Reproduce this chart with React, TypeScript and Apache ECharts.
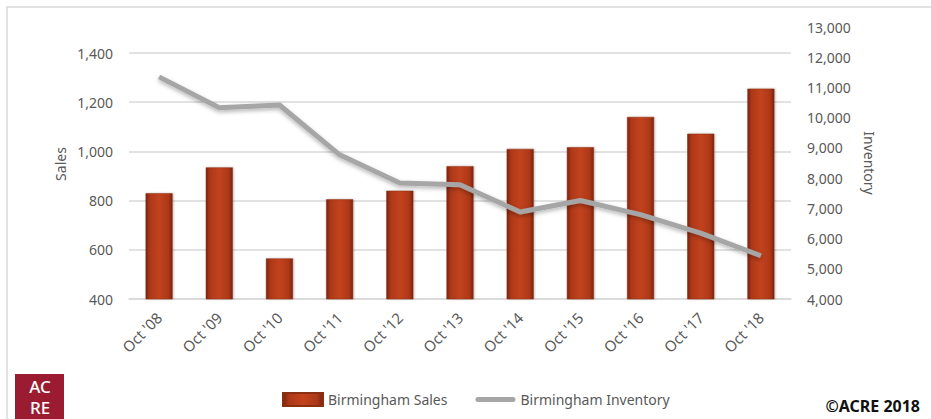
import React, { useEffect, useRef } from "react";
import * as echarts from "echarts";

const categories = ["Oct '08", "Oct '09", "Oct '10", "Oct '11", "Oct '12", "Oct '13", "Oct '14", "Oct '15", "Oct '16", "Oct '17", "Oct '18"];
const salesValues = [830, 935, 565, 805, 840, 940, 1010, 1017, 1140, 1072, 1255];
const inventoryValues = [11350, 10330, 10420, 8770, 7840, 7780, 6880, 7260, 6790, 6180, 5430];
const salesName = "Birmingham Sales";
const inventoryName = "Birmingham Inventory";

const FONT = "'Noto Sans', sans-serif";
const GRAY = "#595959";

export default function App() {
  const ref = useRef<HTMLDivElement>(null);
  useEffect(() => {
    if (!ref.current) return;
    const chart = echarts.init(ref.current, null, { renderer: "svg" });
    const barGradient = new echarts.graphic.LinearGradient(0, 0, 1, 0, [
      { offset: 0, color: "#7a230f" },
      { offset: 0.15, color: "#ad3818" },
      { offset: 0.5, color: "#c2431d" },
      { offset: 0.85, color: "#ad3818" },
      { offset: 1, color: "#7a230f" },
    ]);
    const lineIcon =
      "path://M0,0 L0,0 Z M0,13 L0,13 Z M40,0 L40,0 Z M2.5,4 L37.5,4 A2.5,2.5 0 0 1 37.5,9 L2.5,9 A2.5,2.5 0 0 1 2.5,4 Z";
    chart.setOption({
      animation: false,
      backgroundColor: "#ffffff",
      textStyle: { fontFamily: FONT },
      grid: [
        { left: 129, right: 140, top: 53, bottom: 120, containLabel: false },
        { left: 129, right: 140, top: 27, bottom: 120, containLabel: false },
      ],
      legend: {
        left: 277,
        top: 387,
        itemWidth: 40,
        itemHeight: 13,
        itemGap: 28,
        textStyle: { color: GRAY, fontSize: 14, fontFamily: FONT },
        data: [
          { name: salesName, icon: "rect" },
          { name: inventoryName, icon: lineIcon, itemStyle: { color: "#a6a6a6" } },
        ],
      },
      xAxis: [
        {
          type: "category",
          gridIndex: 0,
          data: categories,
          axisLine: { show: true, lineStyle: { color: "#d9d9d9", width: 1.5 } },
          axisTick: { show: false },
          axisLabel: { rotate: 45, color: GRAY, fontSize: 15, margin: 16, fontFamily: FONT },
        },
        {
          type: "category",
          gridIndex: 1,
          data: categories,
          show: false,
        },
      ],
      yAxis: [
        {
          type: "value",
          gridIndex: 0,
          min: 400,
          max: 1400,
          interval: 200,
          axisLine: { show: false },
          axisTick: { show: false },
          splitLine: { lineStyle: { color: "#d9d9d9", width: 1.5 } },
          axisLabel: {
            color: GRAY,
            fontSize: 14,
            margin: 16,
            fontFamily: FONT,
            formatter: (v: number) => v.toLocaleString("en-US"),
          },
        },
        {
          type: "value",
          gridIndex: 1,
          position: "right",
          min: 4000,
          max: 13000,
          interval: 1000,
          axisLine: { show: false },
          axisTick: { show: false },
          splitLine: { show: false },
          axisLabel: {
            color: GRAY,
            fontSize: 14,
            margin: 16,
            fontFamily: FONT,
            formatter: (v: number) => v.toLocaleString("en-US"),
          },
        },
      ],
      series: [
        {
          name: salesName,
          type: "bar",
          xAxisIndex: 0,
          yAxisIndex: 0,
          data: salesValues,
          barWidth: 27,
          itemStyle: {
            color: barGradient,
            borderColor: "#8a2e14",
            borderWidth: 0.5,
            shadowColor: "rgba(0,0,0,0.25)",
            shadowBlur: 2,
            shadowOffsetX: 1,
          },
          z: 2,
        },
        {
          name: inventoryName,
          type: "line",
          xAxisIndex: 1,
          yAxisIndex: 1,
          data: inventoryValues,
          symbol: "none",
          lineStyle: {
            color: "#a6a6a6",
            width: 5,
            shadowColor: "rgba(0,0,0,0.3)",
            shadowBlur: 4,
            shadowOffsetY: 2,
          },
          itemStyle: { color: "#a6a6a6" },
          z: 5,
        },
      ],
      graphic: [
        {
          type: "rect",
          shape: { x: 7, y: 7, width: 960, height: 440 },
          style: { fill: "none", stroke: "#d9d9d9", lineWidth: 1.5 },
          silent: true,
        },
        {
          type: "text",
          x: 60,
          y: 164,
          rotation: Math.PI / 2,
          style: { text: "Sales", fill: GRAY, fontSize: 14, fontFamily: FONT, textAlign: "center", textVerticalAlign: "middle" },
        },
        {
          type: "text",
          x: 869,
          y: 163,
          rotation: -Math.PI / 2,
          style: { text: "Inventory", fill: GRAY, fontSize: 14, fontFamily: FONT, textAlign: "center", textVerticalAlign: "middle" },
        },
        {
          type: "rect",
          shape: { x: 15, y: 374, width: 49, height: 46 },
          style: { fill: "#9b1c31" },
        },
        {
          type: "text",
          x: 40,
          y: 396.5,
          style: { text: "AC\nRE", fill: "#ffffff", fontSize: 17, lineHeight: 21, fontWeight: 500, fontFamily: FONT, textAlign: "center", textVerticalAlign: "middle" },
        },
        {
          type: "text",
          x: 920,
          y: 406,
          style: { text: "©ACRE 2018", fill: "#111111", fontSize: 16, fontWeight: "bold", fontFamily: FONT, textAlign: "right", textVerticalAlign: "middle" },
        },
      ],
    });
    return () => chart.dispose();
  }, []);
  return (
    <div
      ref={ref}
      style={{ position: "fixed", left: 0, top: 0, width: 931, height: 419 }}
    />
  );
}
